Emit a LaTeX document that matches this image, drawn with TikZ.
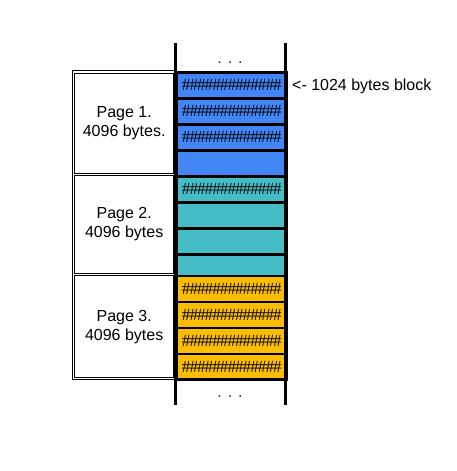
\documentclass[tikz,border=0pt]{standalone}
\usepackage{fontspec}
\setmainfont{Liberation Sans}
\newfontfamily\hashfont{Liberation Serif}
\usetikzlibrary{positioning}

\definecolor{blockblue}{RGB}{66,133,244}
\definecolor{blockteal}{RGB}{70,189,198}
\definecolor{blockorange}{RGB}{251,188,4}
\definecolor{dotnavy}{RGB}{30,40,90}

% one row of 13 hashes
\newcommand{\hashrow}{\hashfont\fontsize{17}{17}\selectfont\foreach \i in {1,...,13}{\#\kern-0.9pt}}

\begin{document}
\begin{tikzpicture}[x=1pt, y=-1pt,
    every node/.style={font=\fontsize{16}{19}\selectfont},
    block/.style={draw=black, line width=2.6pt, inner sep=0pt, anchor=north west, minimum width=110pt},
    pagebox/.style={draw=black, line width=0.8pt, inner sep=0pt, anchor=north west, align=center, minimum width=99pt},
    rail/.style={draw=black, line width=3pt}]
            \useasboundingbox (0,0) rectangle (457,471);

            % Blocks (1024 bytes each)
            \foreach \k/\top/\h/\col/\txt in {
                1/71/26/blockblue/\hashrow, 2/97/26/blockblue/\hashrow,
                3/123/26/blockblue/\hashrow, 4/149/26/blockblue/{},
                5/175/26/blockteal/\hashrow, 6/201/26/blockteal/{},
                7/227/26/blockteal/{}, 8/253/21.5/blockteal/{},
                9/274.5/26/blockorange/\hashrow, 10/300.5/26/blockorange/\hashrow,
                11/326.5/26/blockorange/\hashrow, 12/352.5/25.5/blockorange/\hashrow} {
                \node[block, fill=\col, minimum height=\h pt] (blk\k) at (175,\top) {\txt};
            }

            % Rails
            \coordinate (railLtop) at (175,43);
            \coordinate (railLbot) at (175,405);
            \coordinate (railRtop) at (285,43);
            \coordinate (railRbot) at (285,405);
            \draw[rail] (railLtop) -- (railLbot);
            \draw[rail] (railRtop) -- (railRbot);

            % Pages (4096 bytes each)
            \draw[line width=0.8pt] (72.3,70.7) rectangle (174,379.3);
            \node[pagebox, minimum height=100.5pt] (page1) at (74.3,72.5) {Page 1.\\4096 bytes.};
            \node[pagebox, minimum height=98pt] (page2) at (74.3,175) {Page 2.\\4096 bytes};
            \node[pagebox, minimum height=102pt] (page3) at (74.3,275.3) {Page 3.\\4096 bytes};

            % Dots and label
            \node[dotnavy, anchor=base] (dotstop) at (230,63) {. . .};
            \node[dotnavy, anchor=base] (dotsbot) at (230,397) {. . .};
            \node[anchor=base west, inner sep=0pt] (blocklabel) at (292,90) {<- 1024 bytes block};
        \end{tikzpicture}
\end{document}
